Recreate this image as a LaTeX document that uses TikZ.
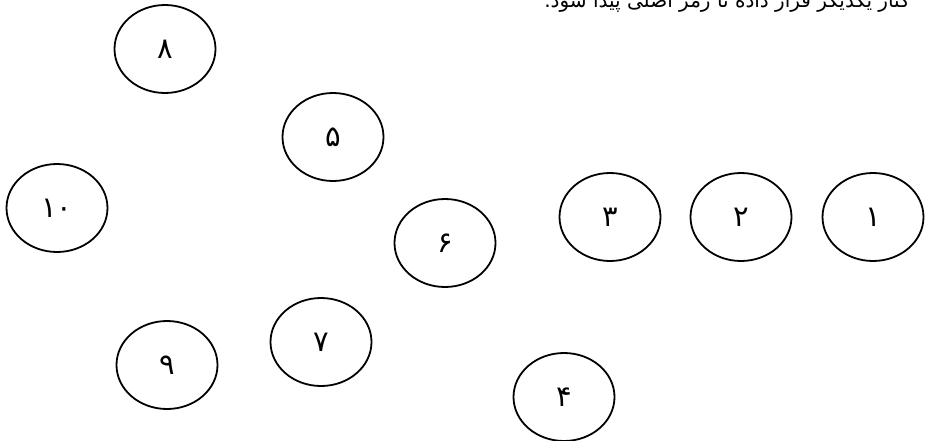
\documentclass[tikz,border=0pt]{standalone}
\usepackage{fontspec}
\usepackage{tikz}
\TeXXeTstate=1
\newfontfamily\farsifont[Script=Arabic]{DejaVu Sans}
\tikzset{digitnode/.style={ellipse,draw,line width=1.8pt,minimum width=101pt,minimum height=88pt,inner sep=0pt,font=\farsifont\fontsize{29}{29}\selectfont}}
\usetikzlibrary{shapes.geometric}

\begin{document}
\begin{tikzpicture}[x=1pt,y=-1pt]

\useasboundingbox (0,0) rectangle (928,441);

% caption
\node [anchor=base east, inner sep=0pt, font=\farsifont\fontsize{20}{20}\selectfont] (caption) at (910,8) {\beginR کنار یکدیگر قرار داده تا رمز اصلی پیدا شود.\endR};

% nodes
\node [style = digitnode] (one) at (873, 217) {\beginR ۱\endR};
\node [style = digitnode] (two) at (741, 217) {\beginR ۲\endR};
\node [style = digitnode] (three) at (610, 217) {\beginR ۳\endR};
\node [style = digitnode] (four) at (564, 397) {\beginR ۴\endR};
\node [style = digitnode] (five) at (333, 137) {\beginR ۵\endR};
\node [style = digitnode] (six) at (445, 243) {\beginR ۶\endR};
\node [style = digitnode] (seven) at (321, 342) {\beginR ۷\endR};
\node [style = digitnode] (eight) at (165, 49) {\beginR ۸\endR};
\node [style = digitnode] (nine) at (167, 365) {\beginR ۹\endR};
\node [style = digitnode] (ten) at (57, 208) {\beginR ۱۰\endR};

\end{tikzpicture}
\end{document}
